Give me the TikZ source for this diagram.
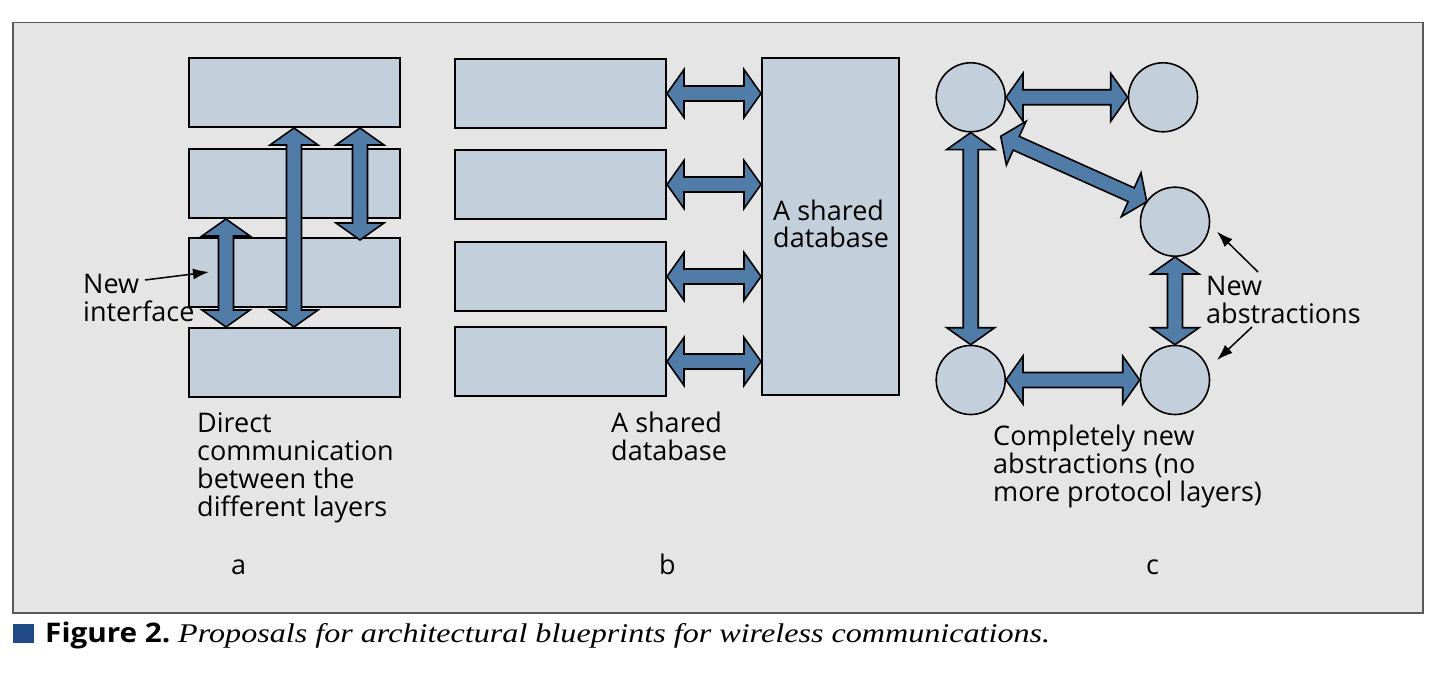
\documentclass[tikz,border=0pt]{standalone}
\usepackage{fontspec}
\setmainfont{Open Sans}
\newfontfamily\capserif{Liberation Serif}
\usetikzlibrary{calc,arrows.meta}
\definecolor{bgray}{HTML}{E5E5E5}
\definecolor{boxfill}{HTML}{C3D0DC}
\definecolor{arrfill}{HTML}{507CA7}
\definecolor{capblue}{HTML}{1F4A85}
\newcommand\ahl{17pt}
\newcommand\ahw{24pt}
\newcommand\asw{7.5pt}
\newcommand\dblarrow[3][]{%
  \coordinate (daA) at (#2);
  \coordinate (daB) at (#3);
  \coordinate (daHA) at ($(daA)!\ahl!(daB)$);
  \coordinate (daHB) at ($(daB)!\ahl!(daA)$);
  \draw[bigarr,#1] (daA) -- ($(daHA)!\ahw!90:(daB)$) -- ($(daHA)!\asw!90:(daB)$)
    -- ($(daHB)!\asw!-90:(daA)$) -- ($(daHB)!\ahw!-90:(daA)$) -- (daB)
    -- ($(daHB)!\ahw!90:(daA)$) -- ($(daHB)!\asw!90:(daA)$)
    -- ($(daHA)!\asw!-90:(daB)$) -- ($(daHA)!\ahw!-90:(daB)$) -- cycle;
}
\begin{document}
\begin{tikzpicture}[x=1pt,y=-1pt,
  layer/.style={draw=black, fill=boxfill, line width=2pt, minimum width=211pt, minimum height=69pt, inner sep=0pt, anchor=north west},
  blob/.style={circle, draw=black, fill=boxfill, line width=1.6pt, minimum size=69pt, inner sep=0pt},
  bigarr/.style={draw=black, fill=arrfill, line width=1.6pt, line join=miter},
  lbl/.style={anchor=base west, inner sep=0pt, font=\fontsize{27}{28}\selectfont, align=left},
  ptr/.style={-{Latex[length=16pt,width=11pt]}, line width=1.5pt}]
\useasboundingbox (0,0) rectangle (1442,676);
\fill[white] (0,0) rectangle (1442,676);
\draw[fill=bgray, draw=gray!70!black, line width=1.3pt] (13,22.5) rectangle (1423,613);

% panel a
\node[layer] (r1) at (188,57) {};
\node[layer] (r2) at (188,148) {};
\node[layer] (r3) at (188,237) {};
\node[layer] (r4) at (188,327) {};
\dblarrow{[xshift=38pt]r2.south west}{[xshift=38pt]r4.north west}
\dblarrow{[xshift=106pt]r1.south west}{[xshift=106pt]r4.north west}
\dblarrow{[xshift=172pt]r1.south west}{[xshift=172pt,yshift=-3pt]r3.north west}
\node[lbl] (ni) at (83,321) {New\\interface};
\coordinate (nitip) at (209,272);
\draw[ptr] (145,280) -- (nitip);
\node[lbl] (ta) at (197,516) {Direct\\communication\\between the\\different layers};
\node[lbl] (la) at (231,574) {a};

% panel b
\node[layer] (b1) at (454,58) {};
\node[layer] (b2) at (454,149) {};
\node[layer] (b3) at (454,241) {};
\node[layer] (b4) at (454,326) {};
\node[draw=black, fill=boxfill, line width=2pt, minimum width=137pt, minimum height=337pt, inner sep=0pt, anchor=north west] (db) at (761,57) {};
\foreach \b in {b1,b2,b3,b4}{\dblarrow{\b.east}{db.west |- \b.east}}
\node[lbl] (dbt) at (773,248) {A shared\\database};
\node[lbl] (tb) at (611,460) {A shared\\database};
\node[lbl] (lb) at (659,574) {b};

% panel c
\node[blob] (c1) at (970.7,97.3) {};
\node[blob] (c2) at (1163,97.3) {};
\node[blob] (c3) at (1175,221.7) {};
\node[blob] (c4) at (970.7,380) {};
\node[blob] (c5) at (1175,380) {};
\dblarrow{c1.east}{c2.west}
\dblarrow{c1.south}{c4.north}
\dblarrow{c3.south}{c5.north}
\dblarrow{c4.east}{c5.west}
\dblarrow{[xshift=30pt,yshift=-39pt]c1.center}{[xshift=-28.3pt,yshift=20pt]c3.center}
\node[lbl] (na) at (1206,323) {New\\abstractions};
\draw[ptr] (1258,272) -- ([xshift=42pt,yshift=-10pt]c3.center);
\draw[ptr] (1252,327) -- ([xshift=42pt,yshift=20pt]c5.center);
\node[lbl] (tc) at (993,501) {Completely new\\abstractions (no\\more protocol layers)};
\node[lbl] (lc) at (1146,574) {c};

% caption
\fill[capblue] (13,624) rectangle (34,643);
\node[anchor=base west, inner sep=0pt, font=\fontsize{27}{28}\selectfont\bfseries] (fig) at (45,642) {\scalebox{1.1}[1]{Figure 2.}};
\node[anchor=base west, inner sep=0pt, font=\fontsize{27}{30}\selectfont\capserif\itshape] (cap) at (178,642) {\scalebox{1.19}[1]{Proposals for architectural blueprints for wireless communications.}};
\end{tikzpicture}
\end{document}
